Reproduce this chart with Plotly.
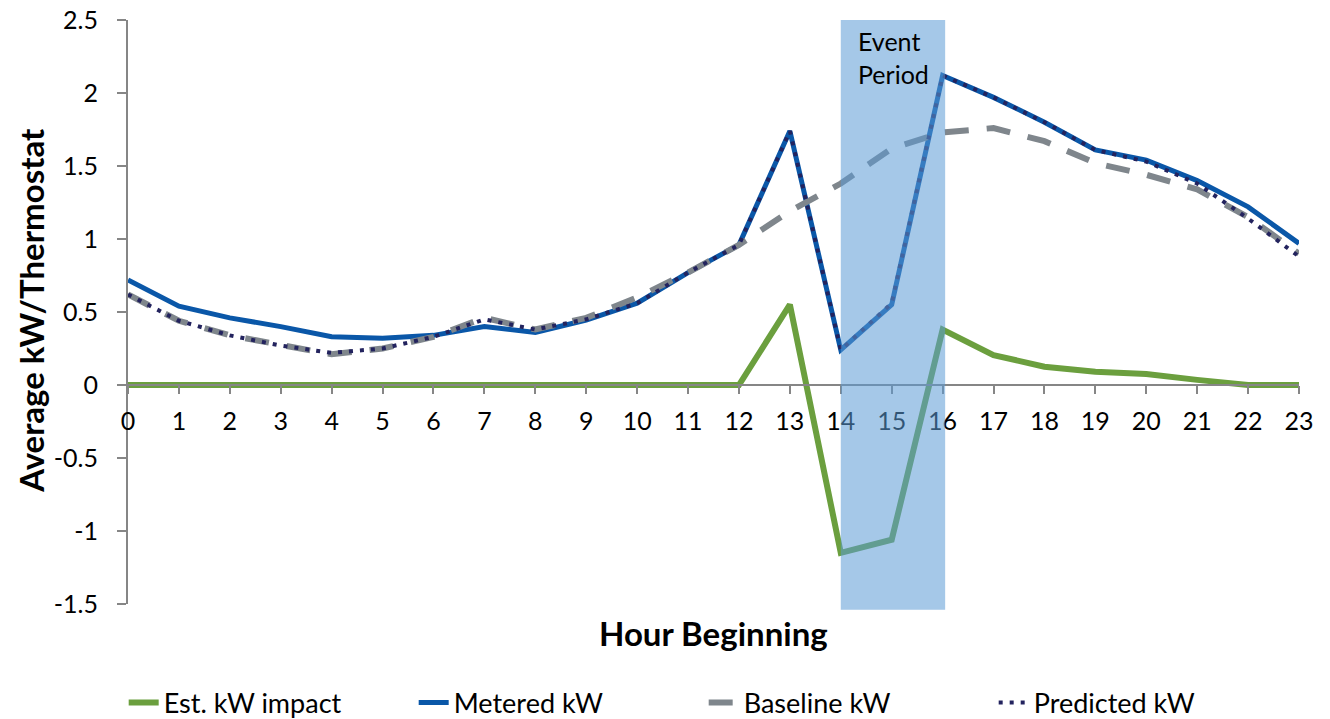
import plotly.graph_objects as go

hours = list(range(24))
est_impact = [0, 0, 0, 0, 0, 0, 0, 0, 0, 0, 0, 0, 0, 0.55, -1.15, -1.06, 0.38,
              0.205, 0.125, 0.09, 0.075, 0.035, 0.0, 0.0]
metered = [0.72, 0.54, 0.46, 0.40, 0.33, 0.32, 0.34, 0.40, 0.36, 0.445, 0.56, 0.77,
           0.96, 1.74, 0.24, 0.55, 2.12, 1.97, 1.80, 1.61, 1.54, 1.40, 1.22, 0.97]
baseline = [0.62, 0.44, 0.34, 0.27, 0.21, 0.25, 0.33, 0.46, 0.38, 0.46, 0.60, 0.77,
            0.96, 1.19, 1.38, 1.62, 1.73, 1.76, 1.67, 1.52, 1.44, 1.34, 1.15, 0.90]
predicted = [0.62, 0.44, 0.34, 0.27, 0.22, 0.25, 0.33, 0.45, 0.38, 0.45, 0.56, 0.77,
             0.96, 1.74, 0.24, 0.56, 2.12, 1.97, 1.80, 1.61, 1.53, 1.38, 1.14, 0.88]

y_ticks = [-1.5, -1, -0.5, 0, 0.5, 1, 1.5, 2, 2.5]
y_tick_labels = ["-1.5", "-1", "-0.5", "0", "0.5", "1", "1.5", "2", "2.5"]
x_tick_labels = [str(h) for h in hours]

FONT = "Lato"

fig = go.Figure()
fig.add_trace(go.Scatter(x=hours, y=est_impact, mode="lines", name="Est. kW impact",
                         line=dict(color="#6b9f3e", width=6)))
fig.add_trace(go.Scatter(x=hours, y=metered, mode="lines", name="Metered kW",
                         line=dict(color="#0a57a8", width=5)))
fig.add_trace(go.Scatter(x=hours, y=baseline, mode="lines", name="Baseline kW",
                         line=dict(color="#7f868c", width=6, dash="24px,18px")))
fig.add_trace(go.Scatter(x=hours, y=predicted, mode="lines", name="Predicted kW",
                         line=dict(color="#23235e", width=4, dash="4px,7px")))

fig.add_shape(type="rect", xref="x", yref="paper", x0=14, x1=16.05, y0=-0.01, y1=1.0,
              fillcolor="#5b9bd5", opacity=0.55, line=dict(width=0), layer="above")

fig.add_annotation(x=14.3, y=2.47, xref="x", yref="y", text="Event<br>Period",
                   showarrow=False, xanchor="left", yanchor="top", align="left",
                   font=dict(family=FONT, size=25, color="#000000"))

fig.add_annotation(x=0.4996, y=-0.0497, xref="paper", yref="paper", text="<b>Hour Beginning</b>",
                   showarrow=False, xanchor="center", yanchor="middle",
                   font=dict(family=FONT, size=33, color="#000000"))
fig.add_annotation(x=-0.0828, y=0.502, xref="paper", yref="paper",
                   text="<b>Average kW/Thermostat</b>", textangle=-90,
                   showarrow=False, xanchor="center", yanchor="middle",
                   font=dict(family=FONT, size=33, color="#000000"))

fig.update_layout(
    width=1330, height=719,
    margin=dict(l=128, r=31, t=20, b=115, autoexpand=False),
    paper_bgcolor="white", plot_bgcolor="white",
    font=dict(family=FONT, size=25, color="#000000"),
    showlegend=True,
    legend=dict(orientation="h", xref="container", yref="container",
                x=0.093, xanchor="left", y=0.0223, yanchor="middle",
                font=dict(family=FONT, size=27, color="#000000"),
                itemwidth=30, entrywidth=245, tracegroupgap=0),
    xaxis=dict(range=[0, 23], tickmode="array", tickvals=hours, ticktext=x_tick_labels,
               showgrid=False, zeroline=False, showline=True, linecolor="#868686",
               linewidth=2, ticks="outside", ticklen=8, tickwidth=2, tickcolor="#868686",
               anchor="free", position=0.375, tickfont=dict(size=25),
               ticklabelstandoff=6, ticklabeloverflow="allow"),
    yaxis=dict(range=[-1.5, 2.5], tickmode="array", tickvals=y_ticks, ticktext=y_tick_labels,
               showgrid=False, zeroline=False, showline=True, linecolor="#868686",
               linewidth=2, ticks="outside", ticklen=9, tickwidth=2, tickcolor="#868686",
               tickfont=dict(size=25), domain=[0, 1], ticklabelstandoff=14,
               ticklabeloverflow="allow"),
)

fig.write_html("out.html", config={"displayModeBar": False},
               post_script="document.body.style.margin='0';document.body.style.overflow='hidden';")
